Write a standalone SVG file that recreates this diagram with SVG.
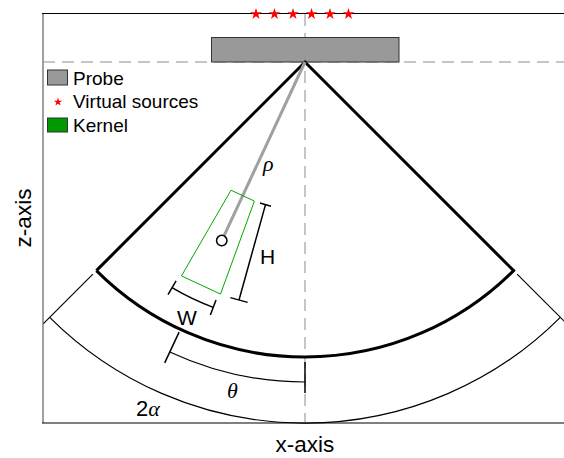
<svg xmlns="http://www.w3.org/2000/svg" xmlns:xlink="http://www.w3.org/1999/xlink" width="564" height="458" viewBox="0 0 564 458">
<style>
.sans{font-family:"Liberation Sans",Arial,sans-serif;fill:#000}
.greek{font-family:"Liberation Serif","DejaVu Serif",serif;font-style:italic;fill:#000}
.thin{fill:none;stroke:#000;stroke-width:1.2}
.thick{fill:none;stroke:#000;stroke-width:3;stroke-linejoin:miter}
.dim{fill:none;stroke:#000;stroke-width:1.5}
.dash{fill:none;stroke:#8c8c8c;stroke-width:1;stroke-dasharray:12 7}
.star{fill:#ff0000}
</style>
<defs>
<path id="star" d="M0,-5.5 L1.23,-1.70 L5.23,-1.70 L2.00,0.65 L3.23,4.45 L0,2.1 L-3.23,4.45 L-2.00,0.65 L-5.23,-1.70 L-1.23,-1.70 Z"/>
</defs>
<rect x="0" y="0" width="564" height="458" fill="#fff"/>
<g id="axes">
<line x1="43" y1="13" x2="43" y2="423" stroke="#a0a0a0" stroke-width="2"/>
<line x1="42" y1="13.5" x2="564" y2="13.5" stroke="#000" stroke-width="1.2"/>
<line x1="42" y1="423" x2="564" y2="423" stroke="#000" stroke-width="1.2"/>
<line class="dash" x1="43" y1="62" x2="564" y2="62"/>
<line class="dash" x1="305" y1="14" x2="305" y2="423"/>
<text class="sans" x="305" y="452" font-size="22.5" text-anchor="middle">x-axis</text>
<text class="sans" transform="translate(31,218) rotate(-90)" font-size="22.5" text-anchor="middle">z-axis</text>
</g>
<g id="virtual-sources">
<use href="#star" xlink:href="#star" class="star" transform="translate(256,14) scale(1.1)"/>
<use href="#star" xlink:href="#star" class="star" transform="translate(274.5,14) scale(1.1)"/>
<use href="#star" xlink:href="#star" class="star" transform="translate(293,14) scale(1.1)"/>
<use href="#star" xlink:href="#star" class="star" transform="translate(311.5,14) scale(1.1)"/>
<use href="#star" xlink:href="#star" class="star" transform="translate(330,14) scale(1.1)"/>
<use href="#star" xlink:href="#star" class="star" transform="translate(348.5,14) scale(1.1)"/>
</g>
<g id="probe">
<rect x="211.5" y="37.5" width="187.5" height="24.5" fill="#999" stroke="#333" stroke-width="1"/>
</g>
<g id="sector">
<path class="thick" d="M96.4,270.6 L305,62 L513.6,270.6 A295,295 0 0 1 96.4,270.6"/>
</g>
<g id="outer-arc">
<path class="thin" d="M49.7,317.3 A361,361 0 0 0 560.3,317.3"/>
<line class="thin" x1="92.9" y1="274.1" x2="43.4" y2="323.6"/>
<line class="thin" x1="517.1" y1="274.1" x2="566.6" y2="323.6"/>
<text x="136" y="416" font-size="22"><tspan class="sans">2</tspan><tspan class="greek">α</tspan></text>
</g>
<g id="connectors">
<line x1="305" y1="62" x2="224.1" y2="235.6" stroke="#a0a0a0" stroke-width="3"/>
</g>
<g id="kernel">
<polygon points="231,190.2 254.4,201.1 220.5,294.1 181.5,275.9" fill="none" stroke="#00aa00" stroke-width="1"/>
<circle cx="221.75" cy="240.54" r="5.2" fill="#fff" stroke="#000" stroke-width="1.5"/>
</g>
<g id="rho-label">
<text class="greek" x="263" y="171" font-size="22">ρ</text>
</g>
<g id="H-dimension">
<line class="dim" x1="265.5" y1="204.6" x2="239" y2="300"/>
<line class="dim" x1="260" y1="203" x2="271" y2="206.2"/>
<line class="dim" x1="230.3" y1="297.6" x2="247.7" y2="302.4"/>
<text class="sans" x="260" y="264" font-size="21">H</text>
</g>
<g id="W-dimension">
<path class="dim" d="M172,287.7 A262,262 0 0 0 213.2,307.4"/>
<line class="dim" x1="176.1" y1="280.8" x2="168" y2="294.6"/>
<line class="dim" x1="216" y1="299.9" x2="210.4" y2="314.9"/>
<text class="sans" x="177" y="325" font-size="21">W</text>
</g>
<g id="theta-dimension">
<path class="thin" d="M169.8,352 A320,320 0 0 0 305,382"/>
<line class="dim" x1="179.1" y1="332.1" x2="164.7" y2="362.9"/>
<line class="dim" x1="305" y1="362" x2="305" y2="393"/>
<text class="greek" x="227" y="398" font-size="22">θ</text>
</g>
<g id="legend">
<rect x="47.5" y="70" width="20" height="15" fill="#999" stroke="#333" stroke-width="1"/>
<text class="sans" x="73" y="85" font-size="19">Probe</text>
<use href="#star" xlink:href="#star" class="star" transform="translate(58,102) scale(0.8)"/>
<text class="sans" x="73" y="108" font-size="19">Virtual sources</text>
<rect x="47.5" y="118" width="20" height="14" fill="#009900" stroke="#333" stroke-width="1"/>
<text class="sans" x="73" y="132" font-size="19">Kernel</text>
</g>
</svg>
